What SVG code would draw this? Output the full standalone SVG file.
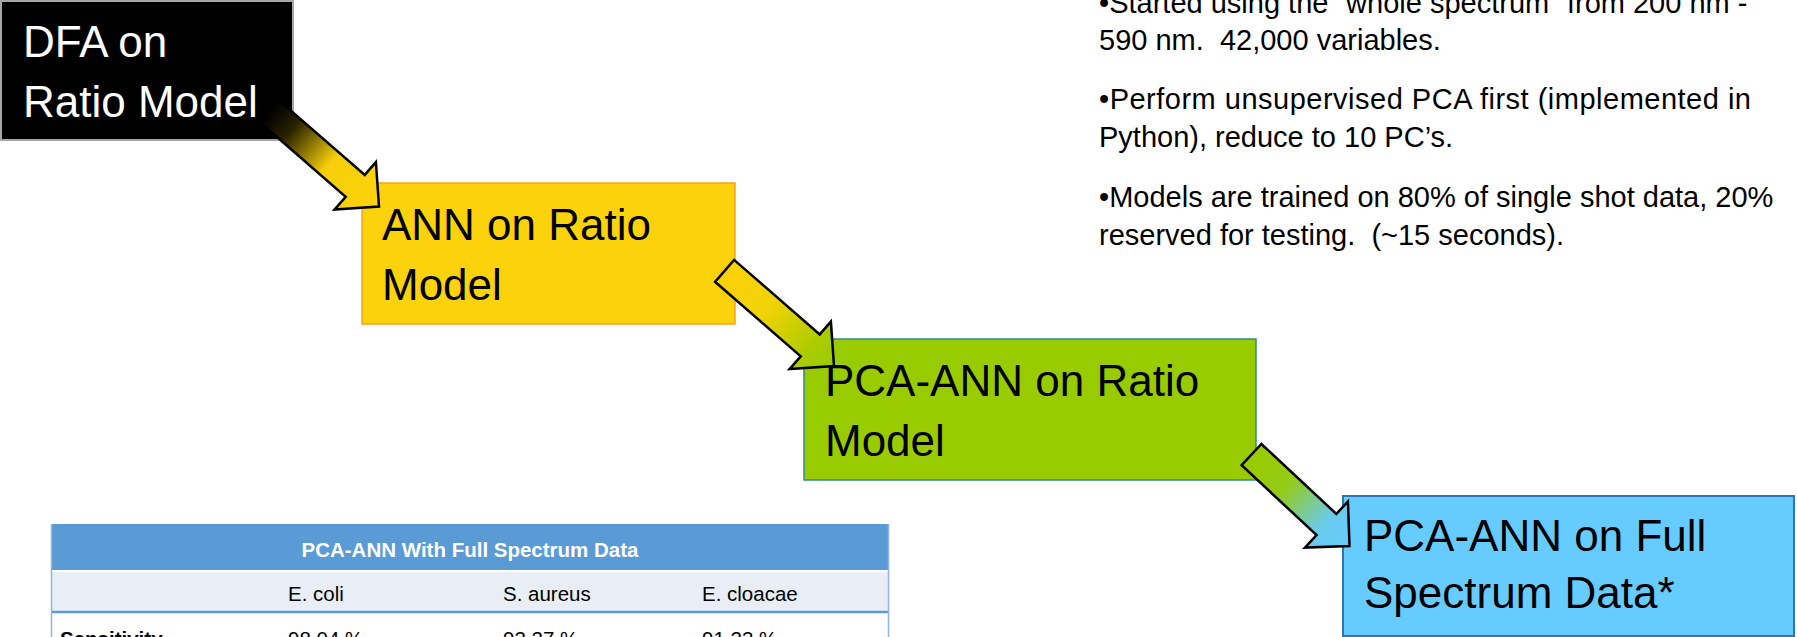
<svg xmlns="http://www.w3.org/2000/svg" width="1797" height="637" viewBox="0 0 1797 637">
  <style>
    .node-text { font-family: "Liberation Sans", Arial, sans-serif; font-size: 44px; }
    .bullets { font-family: "Liberation Sans", Arial, sans-serif; font-size: 29px; fill: #000; white-space: pre; }
    .tbl { font-family: "Liberation Sans", Arial, sans-serif; font-size: 20.5px; fill: #000; white-space: pre; }
    .tbl-head { font-family: "Liberation Sans", Arial, sans-serif; font-size: 20.5px; font-weight: bold; fill: #fff; }
    .arrow { stroke: #000; stroke-width: 2.5; stroke-linejoin: miter; }
  </style>
  <defs>
    <linearGradient id="g1" x1="0" y1="0" x2="1" y2="0">
      <stop offset="0" stop-color="#000000"/>
      <stop offset="0.2" stop-color="#2a2300"/>
      <stop offset="0.55" stop-color="#F6CF0A"/>
      <stop offset="1" stop-color="#FCD20A"/>
    </linearGradient>
    <linearGradient id="g2" x1="0" y1="0" x2="1" y2="0">
      <stop offset="0" stop-color="#FCD10A"/>
      <stop offset="0.4" stop-color="#F0D306"/>
      <stop offset="0.8" stop-color="#ACCC00"/>
      <stop offset="1" stop-color="#99CC00"/>
    </linearGradient>
    <linearGradient id="g3" x1="0" y1="0" x2="1" y2="0">
      <stop offset="0" stop-color="#99CC00"/>
      <stop offset="0.35" stop-color="#94CB18"/>
      <stop offset="0.75" stop-color="#6ACAEC"/>
      <stop offset="1" stop-color="#66CCFF"/>
    </linearGradient>
  </defs>

  <g id="node-dfa">
    <rect x="1" y="1" width="292" height="139" fill="#000" stroke="#a6a6a6" stroke-width="2"/>
    <text class="node-text" fill="#fff" x="23" y="57">DFA on</text>
    <text class="node-text" fill="#fff" x="23" y="117">Ratio Model</text>
  </g>

  <g id="node-ann">
    <rect x="362" y="183" width="373" height="141" fill="#FBD20B" stroke="#F7A21B" stroke-width="1.5"/>
    <text class="node-text" fill="#000" x="382" y="240">ANN on Ratio</text>
    <text class="node-text" fill="#000" x="382" y="300">Model</text>
  </g>

  <g id="node-pca-ratio">
    <rect x="804" y="339" width="452" height="141" fill="#99CC00" stroke="#2F8C8C" stroke-width="1.5"/>
    <text class="node-text" fill="#000" x="825" y="396">PCA-ANN on Ratio</text>
    <text class="node-text" fill="#000" x="825" y="456">Model</text>
  </g>

  <g id="node-pca-full">
    <rect x="1343" y="496" width="451" height="140" fill="#66CCFF" stroke="#2E75B6" stroke-width="2"/>
    <text class="node-text" fill="#000" x="1364" y="551">PCA-ANN on Full</text>
    <text class="node-text" fill="#000" x="1364" y="608">Spectrum Data*</text>
  </g>

  <g id="notes">
    <text class="bullets" x="1099" y="13">•Started using the “whole spectrum” from 200 nm -</text>
    <text class="bullets" x="1099" y="50">590 nm.  42,000 variables.</text>
    <text class="bullets" x="1099" y="109" textLength="652">•Perform unsupervised PCA first (implemented in</text>
    <text class="bullets" x="1099" y="147">Python), reduce to 10 PC’s.</text>
    <text class="bullets" x="1099" y="207">•Models are trained on 80% of single shot data, 20%</text>
    <text class="bullets" x="1099" y="245">reserved for testing.  (~15 seconds).</text>
  </g>

  <g id="table">
    <rect x="51" y="524" width="838" height="47" fill="#5B9BD5"/>
    <rect x="51" y="571" width="838" height="41" fill="#E9EEF6"/>
    <rect x="51" y="612" width="838" height="30" fill="#fff"/>
    <line x1="51" y1="571" x2="889" y2="571" stroke="#fff" stroke-width="2"/>
    <line x1="51" y1="612" x2="889" y2="612" stroke="#5B9BD5" stroke-width="2.5"/>
    <line x1="51.5" y1="524" x2="51.5" y2="637" stroke="#8DB4E2" stroke-width="1.5"/>
    <line x1="888.5" y1="524" x2="888.5" y2="637" stroke="#8DB4E2" stroke-width="1.5"/>
    <text class="tbl-head" x="470" y="557" text-anchor="middle">PCA-ANN With Full Spectrum Data</text>
    <text class="tbl" x="288" y="601">E. coli</text>
    <text class="tbl" x="503" y="601">S. aureus</text>
    <text class="tbl" x="702" y="601">E. cloacae</text>
    <text class="tbl" x="60" y="646" font-weight="bold">Sensitivity</text>
    <text class="tbl" x="288" y="646">98.04 %</text>
    <text class="tbl" x="503" y="646">93.27 %</text>
    <text class="tbl" x="702" y="646">91.23 %</text>
  </g>

  <g id="connectors">
    <polygon class="arrow" fill="url(#g1)" transform="translate(379,206.5) rotate(41)" points="-145,-14.5 -31.5,-14.5 -31.5,-31.5 0,0 -31.5,31.5 -31.5,14.5 -145,14.5"/>
    <polygon class="arrow" fill="url(#g2)" transform="translate(834,366) rotate(41)" points="-145,-14.5 -31.5,-14.5 -31.5,-31.5 0,0 -31.5,31.5 -31.5,14.5 -145,14.5"/>
    <polygon class="arrow" fill="url(#g3)" transform="translate(1349.5,546) rotate(43)" points="-134,-14.5 -31.5,-14.5 -31.5,-31.5 0,0 -31.5,31.5 -31.5,14.5 -134,14.5"/>
  </g>
</svg>
